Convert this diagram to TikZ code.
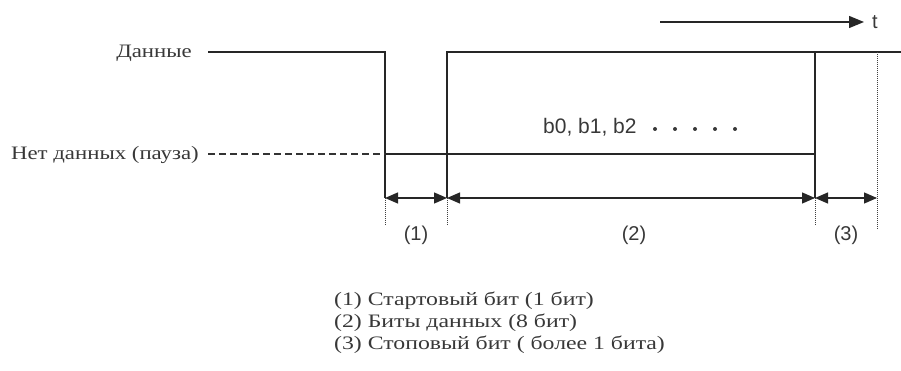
\documentclass[tikz,border=0pt]{standalone}
\usepackage{fontspec}
\setmainfont{Liberation Serif}
\setsansfont{Liberation Sans}
\newfontfamily\widefont[FakeStretch=1.2]{Liberation Serif}
\newfontfamily\widerfont[FakeStretch=1.25]{Liberation Serif}
\usetikzlibrary{arrows.meta}
\begin{document}
\begin{tikzpicture}[x=1pt,y=-1pt,
  sig/.style={line width=1.3pt, draw=black!85},
  dimarrow/.style={{Triangle[length=13pt,width=11pt]}-{Triangle[length=13pt,width=11pt]}, line width=1.3pt, draw=black!85},
  guide/.style={densely dotted, line width=1pt, draw=black!75},
  pause/.style={dash pattern=on 7pt off 4pt, line width=1.1pt, draw=black!80},
  lbl/.style={font=\widefont\fontsize{19}{22}\selectfont, inner sep=0pt, text=black!78},
  leg/.style={font=\widerfont\fontsize{19}{22}\selectfont, inner sep=0pt, text=black!78},
  slbl/.style={font=\sffamily\fontsize{20}{22}\selectfont, inner sep=0pt, text=black!78}]
\useasboundingbox (0,0) rectangle (901,371);
% levels
\coordinate (a0) at (208,52);
\coordinate (a1) at (385,52);
\coordinate (a1d) at (385,198);
\coordinate (a1e) at (385,226);
\coordinate (p0) at (208,154);
\coordinate (p1) at (385,154);
\coordinate (p2) at (815,154);
\coordinate (b1) at (447,52);
\coordinate (b1d) at (447,198);
\coordinate (b1e) at (447,226);
\coordinate (c1) at (815,52);
\coordinate (c1d) at (815,198);
\coordinate (c1e) at (815,226);
\coordinate (e1) at (901,52);
\coordinate (s1) at (877,52);
\coordinate (s1d) at (877,198);
\coordinate (s1e) at (877,230);
% labels
\node[lbl, anchor=base east] (data) at (192,58) {Данные};
\node[lbl, anchor=base east] (nodata) at (199,160) {Нет данных (пауза)};
% signal
\draw[sig] (a0) -- (a1) -- (a1d);
\draw[pause] (p0) -- (p1);
\draw[sig] (p1) -- (p2);
\draw[sig] (b1d) -- (b1) -- (e1);
\draw[sig] (c1) -- (c1d);
% guides
\draw[guide] (a1d) -- (a1e);
\draw[guide] (b1d) -- (b1e);
\draw[guide] (c1d) -- (c1e);
\draw[guide] (s1) -- (s1e);
% dimension arrows
\draw[dimarrow] (a1d) -- (b1d);
\draw[dimarrow] (b1d) -- (c1d);
\draw[dimarrow] (c1d) -- (s1d);
\node[slbl] (l1) at (416,235) {(1)};
\node[slbl] (l2) at (634,235) {(2)};
\node[slbl] (l3) at (846,235) {(3)};
% bits
\node[slbl, anchor=base west, font=\sffamily\fontsize{21}{22}\selectfont] (bits) at (543,134) {b0, b1, b2};
\foreach \x in {655,675,695,715,735}
  \fill[black!78] (\x,129) circle (2pt);
% time arrow
\coordinate (t0) at (660,22);
\node[slbl, anchor=west] (t) at (872,22) {t};
\draw[line width=1.3pt, draw=black!85, -{Triangle[length=15pt,width=12pt]}] (t0) -- ([xshift=-8pt]t.west);
% legend
\node[leg, anchor=base west] (leg1) at (334,305) {(1) Стартовый бит (1 бит)};
\node[leg, anchor=base west] (leg2) at (334,327) {(2) Биты данных (8 бит)};
\node[leg, anchor=base west] (leg3) at (334,349) {(3) Стоповый бит ( более 1 бита)};
\end{tikzpicture}
\end{document}
